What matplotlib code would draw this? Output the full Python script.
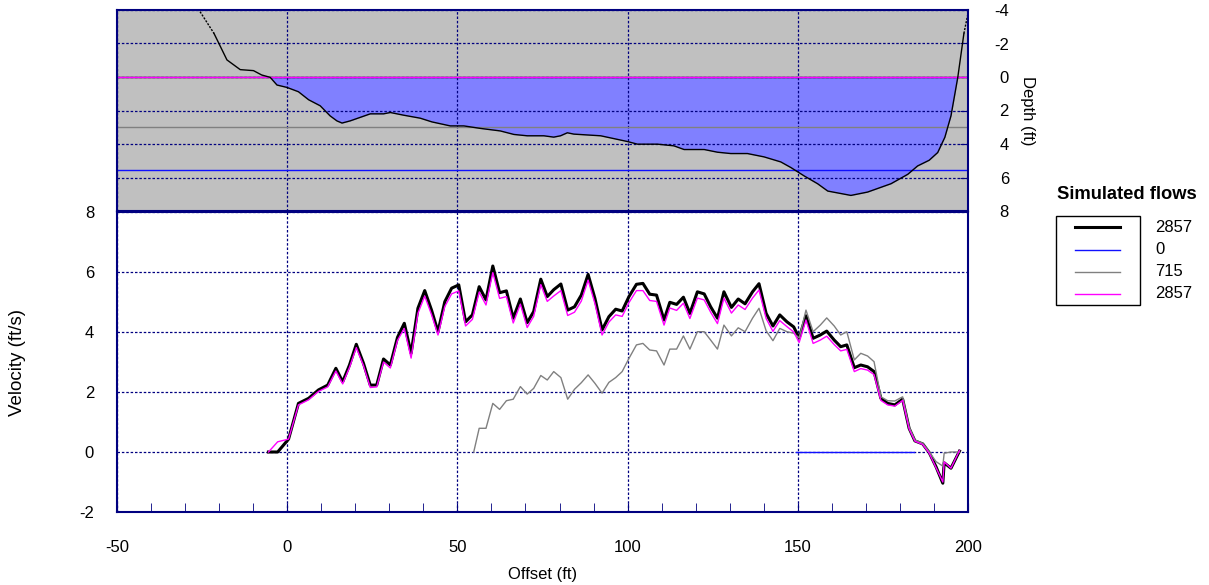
import matplotlib
matplotlib.use("Agg")
import matplotlib.pyplot as plt
from matplotlib.lines import Line2D
from matplotlib.patches import Rectangle
from matplotlib.ticker import MultipleLocator

plt.rcParams['font.family'] = ['Liberation Sans', 'DejaVu Sans']
plt.rcParams['font.size'] = 12
plt.rcParams['axes.unicode_minus'] = False

# cross section (offset ft, depth ft)
bed_x = [-25.6, -21.5, -17.7, -13.8, -9.9, -7.5, -5.0, -3.0, -0.1, 3.3, 6.3, 9.7, 12.6, 14.6, 16.1,
         18.5, 24.4, 28.3, 30.3, 34.2, 39.1, 42.5, 47.9, 51.9, 56.8, 62.6, 66.6, 70.5, 75.4, 78.3,
         80.3, 82.3, 84.2, 92.1, 99.9, 102.9, 108.8, 113.6, 116.6, 122.5, 126.4, 130.3, 135.2, 140.1,
         145.0, 148.0, 151.9, 155.8, 158.8, 165.6, 170.5, 177.4, 182.3, 185.2, 188.6, 191.1, 193.2,
         195.0, 197.0, 198.8, 200.2]
bed_depth = [-3.9, -2.6, -1.02, -0.44, -0.38, -0.12, 0.02, 0.48, 0.62, 0.88, 1.36, 1.72, 2.32, 2.62, 2.75,
             2.62, 2.2, 2.2, 2.12, 2.28, 2.46, 2.68, 2.92, 2.92, 3.07, 3.22, 3.43, 3.51, 3.51, 3.59,
             3.51, 3.33, 3.41, 3.51, 3.85, 4.01, 4.01, 4.11, 4.33, 4.33, 4.49, 4.57, 4.57, 4.77,
             5.07, 5.41, 5.91, 6.37, 6.81, 7.07, 6.87, 6.37, 5.81, 5.31, 4.97, 4.51, 3.6,
             2.32, 0.02, -2.6, -4.0]

# simulated flows and their water surface (depth ft)
flows = ['2857', '0', '715', '2857']
wse = [0.0, 5.57, 3.0, 0.0]
colors = ['#000000', '#1010FF', '#808080', '#FF00FF']
widths = [2.2, 1.0, 1.0, 1.0]

# velocity profiles (ft/s)
off_q2857 = [-5.5, -2.8, 0.4, 3.3, 6.3, 9.2, 11.9, 14.3, 16.3, 18.3, 20.3, 22.4, 24.4, 26.3, 28.3,
             30.3, 32.4, 34.4, 36.4, 38.4, 40.4, 42.4, 44.3, 46.3, 48.3, 50.4, 52.4, 54.4, 56.4, 58.4,
             60.4, 62.4, 64.4, 66.4, 68.5, 70.5, 72.4, 74.5, 76.4, 78.3, 80.4, 82.4, 84.4, 86.4, 88.4,
             90.4, 92.5, 94.5, 96.5, 98.4, 100.4, 102.6, 104.5, 106.5, 108.5, 110.7, 112.4, 114.4,
             116.4, 118.3, 120.5, 122.5, 124.4, 126.4, 128.3, 130.5, 132.5, 134.5, 136.7, 138.6,
             140.7, 142.7, 144.7, 146.8, 148.8, 150.4, 152.4, 154.5, 156.6, 158.5, 160.7, 162.6,
             164.4, 166.6, 168.5, 170.5, 172.4, 174.4, 176.4, 178.5, 180.8, 182.7, 184.4, 186.7,
             188.6, 190.6, 192.6, 193.0, 195.0, 197.5]
vel_a = [0.0, 0.0, 0.43, 1.62, 1.79, 2.07, 2.23, 2.79, 2.34, 2.9, 3.59, 2.96, 2.23, 2.23, 3.1,
         2.9, 3.82, 4.29, 3.29, 4.79, 5.38, 4.73, 4.01, 5.01, 5.46, 5.57, 4.34, 4.57, 5.51, 5.07,
         6.2, 5.31, 5.37, 4.46, 5.1, 4.31, 4.68, 5.76, 5.18, 5.41, 5.6, 4.73, 4.84, 5.23, 5.92,
         5.12, 4.07, 4.51, 4.76, 4.7, 5.18, 5.59, 5.62, 5.26, 5.23, 4.4, 4.99, 4.92,
         5.16, 4.62, 5.34, 5.27, 4.84, 4.46, 5.34, 4.82, 5.1, 4.94, 5.34, 5.61,
         4.62, 4.2, 4.57, 4.34, 4.17, 3.8, 4.54, 3.79, 3.9, 4.03, 3.73, 3.51,
         3.57, 2.81, 2.9, 2.84, 2.68, 1.79, 1.62, 1.57, 1.76, 0.79, 0.37, 0.27,
         -0.02, -0.49, -1.04, -0.36, -0.54, 0.03]
vel_b = [0.0, 0.34, 0.43, 1.57, 1.74, 2.02, 2.17, 2.70, 2.27, 2.82, 3.48, 2.88, 2.15, 2.17, 3.00,
         2.80, 3.72, 4.12, 3.13, 4.62, 5.20, 4.58, 3.90, 4.85, 5.27, 5.37, 4.20, 4.42, 5.33, 4.90,
         5.98, 5.12, 5.18, 4.30, 4.93, 4.15, 4.52, 5.58, 5.02, 5.20, 5.38, 4.55, 4.66, 5.03, 5.73,
         4.95, 3.90, 4.33, 4.57, 4.52, 4.98, 5.38, 5.38, 5.05, 5.02, 4.23, 4.80, 4.72,
         4.96, 4.45, 5.13, 5.07, 4.66, 4.28, 5.13, 4.63, 4.90, 4.75, 5.13, 5.40,
         4.45, 4.02, 4.38, 4.18, 4.00, 3.65, 4.40, 3.62, 3.73, 3.86, 3.58, 3.37,
         3.42, 2.68, 2.78, 2.73, 2.58, 1.72, 1.57, 1.53, 1.72, 0.77, 0.36, 0.25,
         -0.04, -0.52, -1.00, -0.33, -0.54, 0.05]

off_q715 = [54.8, 56.4, 58.4, 60.4, 62.4, 64.4, 66.4, 68.5, 70.5, 72.4, 74.5, 76.4, 78.3, 80.4,
            82.4, 84.4, 86.4, 88.4, 90.4, 92.5, 94.5, 96.5, 98.4, 100.4, 102.6, 104.5, 106.5, 108.5,
            110.7, 112.4, 114.4, 116.4, 118.3, 120.5, 122.5, 124.4, 126.4, 128.3, 130.5, 132.5,
            134.5, 136.7, 138.6, 140.7, 142.7, 144.7, 146.8, 148.8, 150.4, 152.4, 154.5, 156.6,
            158.5, 160.7, 162.6, 164.4, 166.6, 168.5, 170.5, 172.4, 174.4, 176.4, 178.5, 180.8,
            182.7, 184.4, 186.7, 188.6, 190.6, 192.6, 193.0, 195.0, 197.5]
vel_c = [0.0, 0.79, 0.79, 1.62, 1.42, 1.71, 1.76, 2.18, 1.93, 2.12, 2.55, 2.4, 2.68, 2.48,
         1.76, 2.09, 2.31, 2.57, 2.29, 1.96, 2.32, 2.48, 2.68, 3.12, 3.57, 3.62, 3.4, 3.37,
         2.9, 3.43, 3.43, 3.87, 3.43, 4.01, 4.01, 3.73, 3.43, 4.23, 3.87, 4.14,
         4.01, 4.46, 4.79, 4.04, 3.71, 4.12, 4.01, 3.96, 3.8, 4.73, 4.01, 4.23,
         4.47, 4.2, 3.9, 4.01, 3.07, 3.29, 3.2, 3.01, 1.84, 1.71, 1.7, 1.84,
         0.84, 0.4, 0.29, 0.01, -0.32, -0.47, -0.04, 0.0, 0.0]

off_q0 = [149.4, 184.1]
vel_d = [0.0, 0.0]

navy = '#000080'
grid_kw = dict(color=navy, linestyle=(0, (2, 1.5)), linewidth=0.9)

fig = plt.figure(figsize=(12.09, 5.85), dpi=100)
L, W = 117 / 1209, 851 / 1209
ax_v = fig.add_axes([L, 73 / 585, W, 300 / 585])
ax_d = fig.add_axes([L, 374 / 585, W, 201 / 585])

# ---- cross section panel ----
ax_d.set_facecolor('#C0C0C0')
ax_d.fill_between(bed_x, wse[0], bed_depth, where=[d > wse[0] for d in bed_depth],
                  interpolate=True, color='#8080FF', lw=0, zorder=1)
ax_d.set_xlim(-50, 200)
ax_d.set_ylim(8, -4)
ax_d.set_xticks([-50, 0, 50, 100, 150, 200])
ax_d.set_yticks([-4, -2, 0, 2, 4, 6, 8])
ax_d.grid(True, zorder=2, **grid_kw)
ax_d.set_axisbelow(False)
for lvl, c in zip(wse, colors):
    ax_d.axhline(lvl, color=c, lw=1.0, zorder=3)
ax_d.plot(bed_x[:2], bed_depth[:2], color='k', lw=1.0, ls=(0, (1.5, 1)), zorder=4)
ax_d.plot(bed_x[1:-1], bed_depth[1:-1], color='k', lw=1.0, zorder=4)
ax_d.plot(bed_x[-2:], bed_depth[-2:], color='k', lw=1.0, ls=(0, (1.5, 1)), zorder=4)
ax_d.yaxis.tick_right()
ax_d.tick_params(axis='y', direction='in', length=6, color=navy, pad=29.5)
ax_d.tick_params(axis='x', length=0, labelbottom=False)
for lab in ax_d.get_yticklabels():
    lab.set_horizontalalignment('right')
ax_d.yaxis.set_label_position('right')
ax_d.set_ylabel('Depth (ft)', rotation=270, va='center')
ax_d.yaxis.set_label_coords(1.0705, 0.5)
for s in ax_d.spines.values():
    s.set_color(navy)
    s.set_linewidth(1.5)
    s.set_zorder(5)

# ---- velocity panel ----
ax_v.plot(off_q2857, vel_a, color=colors[0], lw=widths[0], zorder=3)
ax_v.plot(off_q0, vel_d, color=colors[1], lw=widths[1], zorder=3)
ax_v.plot(off_q715, vel_c, color=colors[2], lw=widths[2], zorder=3)
ax_v.plot(off_q2857, vel_b, color=colors[3], lw=widths[3], zorder=3)
ax_v.set_xlim(-50, 200)
ax_v.set_ylim(-2, 8)
ax_v.set_xticks([-50, 0, 50, 100, 150, 200])
ax_v.xaxis.set_minor_locator(MultipleLocator(10))
ax_v.set_yticks([-2, 0, 2, 4, 6, 8])
ax_v.grid(True, zorder=1, **grid_kw)
ax_v.tick_params(axis='x', which='both', direction='in', length=6.5, color=navy, pad=20)
ax_v.tick_params(axis='y', length=0, pad=16.5)
ax_v.set_xlabel('Offset (ft)', va='center')
ax_v.xaxis.set_label_coords(0.5, -0.21)
ax_v.set_ylabel('Velocity (ft/s)', va='center', fontsize=13.5)
ax_v.yaxis.set_label_coords(-0.1175, 0.5)
for s in ax_v.spines.values():
    s.set_color(navy)
    s.set_linewidth(1.5)

# ---- legend (labels sit outside the box) ----
def fx(px):
    return px / 1209

def fy(py):
    return 1 - py / 585

fig.text(fx(1127), fy(195), 'Simulated flows', ha='center', va='center',
         fontweight='bold', fontsize=13.2)
fig.add_artist(Rectangle((fx(1056), fy(305)), fx(1140) - fx(1056), fy(216) - fy(305),
                         transform=fig.transFigure, fill=False, ec='k', lw=1.0))
for i, (lab, c, w) in enumerate(zip(flows, colors, widths)):
    yy = 227.5 + i * 22
    fig.add_artist(Line2D([fx(1075), fx(1120)], [fy(yy), fy(yy)], transform=fig.transFigure,
                          color=c, lw=w))
    fig.text(fx(1155), fy(yy), lab, ha='left', va='center')

plt.savefig('out.png', dpi=100)
plt.close()
